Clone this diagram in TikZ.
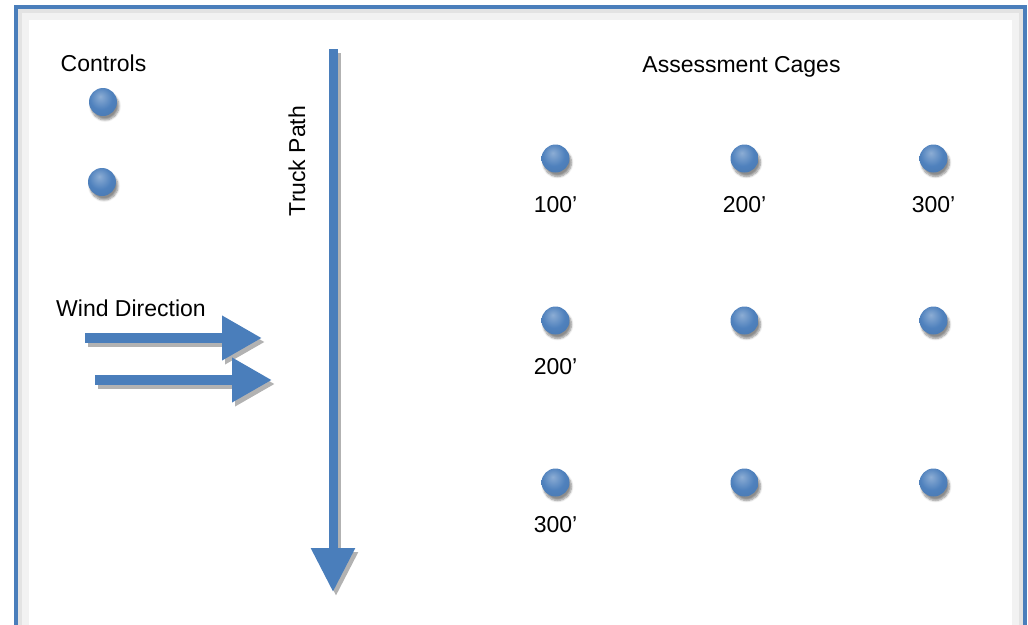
\documentclass[tikz,border=0pt]{standalone}
\usepackage{fontspec}
\setmainfont{Liberation Sans}
\usetikzlibrary{matrix}
\usetikzlibrary{positioning}
\usetikzlibrary{arrows.meta}
\usetikzlibrary{shadows.blur}

\definecolor{pathblue}{RGB}{74,126,187}
\definecolor{dotblue}{RGB}{79,129,189}

\pgfdeclareradialshading{cageball}{\pgfpoint{-5bp}{10bp}}{%
	color(0bp)=(dotblue!65!white); color(20bp)=(dotblue);
	color(40bp)=(dotblue!92!black); color(60bp)=(dotblue!75!black)}

\tikzset{
	lbl/.style={font=\fontsize{23}{27}\selectfont, inner sep=0pt, anchor=base},
	cage/.style={circle, minimum size=28pt, inner sep=0pt, shading=cageball,
		blur shadow={shadow xshift=2pt, shadow yshift=-4pt, shadow blur steps=6, shadow opacity=45}},
	arrowline/.style={pathblue, line width=#1},
	arrowshade/.style={black!30, line width=#1},
}

\begin{document}
\begin{tikzpicture}[x=1pt,y=-1pt]
	\useasboundingbox (0,0) rectangle (1028,624);
	\clip (0,0) rectangle (1028,624);
	% frame
	\draw[black!5, line width=10pt] (24,15) rectangle (1017,680);
	\draw[black!11, line width=4pt] (20,11) rectangle (1021,680);
	\draw[pathblue, line width=4pt] (16,7) rectangle (1025,680);

	\node[lbl] (controls) at (103.5,71) {Controls};
	\node[cage] (ctrl-1) at (103,102) {};
	\node[cage] (ctrl-2) at (102,182) {};

	\node[lbl] (wind) at (131,316) {Wind Direction};
	\node[lbl] (cagetitle) at (741.5,72) {Assessment Cages};
	\node[lbl, rotate=90, anchor=center] (truck) at (297,161) {Truck Path};

	\matrix (cages) at (744.5,320.5) [%
	matrix of nodes,
	nodes in empty cells,
	nodes={cage},
	column sep=161pt,
	row sep=134pt,ampersand replacement=\&
	]
	{
		\& \& \\
		\& \& \\
		\& \& \\
	};
	\node[lbl, below=24pt of cages-1-1] (d-1-1) {100'};
	\node[lbl, below=24pt of cages-1-2] (d-1-2) {200'};
	\node[lbl, below=24pt of cages-1-3] (d-1-3) {300'};
	\node[lbl, below=24pt of cages-2-1] (d-2-1) {200'};
	\node[lbl, below=20pt of cages-3-1] (d-3-1) {300'};

	\coordinate (truck-top) at (333,49);
	\coordinate (truck-end) at (333,592);
	\coordinate (wind-1-start) at (85,338);
	\coordinate (wind-1-end) at (262,338);
	\coordinate (wind-2-start) at (95,380);
	\coordinate (wind-2-end) at (272,380);

	\draw[arrowshade=9pt, -{Triangle[length=44pt,width=42pt]}, transform canvas={shift={(3pt,-4pt)}}] (truck-top) -- (truck-end);
	\draw[arrowline=9pt, -{Triangle[length=44pt,width=42pt]}] (truck-top) -- (truck-end);
	\draw[arrowshade=10pt, -{Triangle[length=40pt,width=42pt]}, transform canvas={shift={(3pt,-4pt)}}] (wind-1-start) -- (wind-1-end);
	\draw[arrowline=10pt, -{Triangle[length=40pt,width=42pt]}] (wind-1-start) -- (wind-1-end);
	\draw[arrowshade=10pt, -{Triangle[length=40pt,width=42pt]}, transform canvas={shift={(3pt,-4pt)}}] (wind-2-start) -- (wind-2-end);
	\draw[arrowline=10pt, -{Triangle[length=40pt,width=42pt]}] (wind-2-start) -- (wind-2-end);
\end{tikzpicture}
\end{document}
